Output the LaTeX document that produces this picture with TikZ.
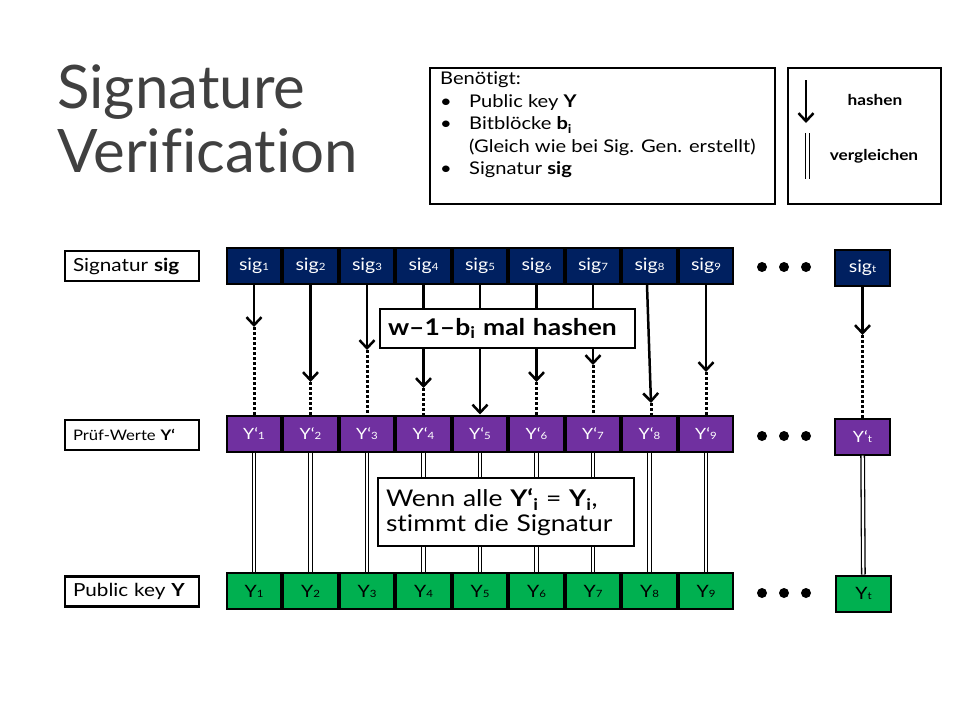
\documentclass[tikz,border=0pt]{standalone}
\usepackage{fontspec}
\setmainfont{Lato}[FakeStretch=1.15, Ligatures=NoCommon]
\newfontfamily\titlefont{Lato}[Ligatures=NoCommon]
\usetikzlibrary{arrows.meta,positioning}
\definecolor{sigblue}{RGB}{0,32,96}
\definecolor{pruefviolet}{RGB}{112,48,160}
\definecolor{keygreen}{RGB}{0,176,80}
\definecolor{titlegray}{RGB}{64,64,64}
\newcommand{\ix}[1]{{\fontsize{10}{10}\selectfont #1}}

\begin{document}
\begin{tikzpicture}[
    x=1pt, y=-1pt,
    cell/.style={rectangle, draw=black, line width=2pt, minimum width=54.5pt, minimum height=36pt, inner sep=0pt, text=white, font=\fontsize{17}{17}\selectfont},
    sigcell/.style={cell, fill=sigblue},
    pcell/.style={cell, fill=pruefviolet, font=\fontsize{15.5}{15.5}\selectfont},
    ycell/.style={cell, fill=keygreen, text=black},
    rowlabel/.style={rectangle, draw, line width=2.5pt, minimum width=134pt, minimum height=30pt, inner sep=0pt, text width=118pt, align=left, font=\fontsize{18}{18}\selectfont},
    frame/.style={rectangle, draw, line width=2.5pt, inner sep=0pt},
    note/.style={rectangle, draw, line width=2.5pt, fill=white, inner sep=7pt, align=left, font=\fontsize{23}{25}\selectfont},
    hash/.style={->, >={Straight Barb[length=8pt,width=15pt]}, line width=2.5pt},
    dotline/.style={line width=3pt, dash pattern=on 2.5pt off 2.5pt},
    cmp/.style={double, line width=1.3pt, double distance=2.2pt}
]
    \useasboundingbox[fill=white] (0,0) rectangle (960,720);

    \node[anchor=base west, inner sep=0pt, text=titlegray, font=\titlefont\fontsize{60}{64}\selectfont] (title1) at (57,108) {Signature};
    \node[anchor=base west, inner sep=0pt, text=titlegray, font=\titlefont\fontsize{60}{64}\selectfont] (title2) at (57,172) {Verification};

    \node[frame, minimum width=345pt, minimum height=136pt] (needbox) at (602.5,136) {};
    \node[anchor=north west, inner sep=0pt, align=left, font=\fontsize{17.5}{22.5}\selectfont] (needtext) at (440,72) {Benötigt:\\
        \makebox[29pt][l]{\textbullet}Public key \textbf{Y}\\
        \makebox[29pt][l]{\textbullet}Bitblöcke \textbf{b\textsubscript{i}}\\
        \makebox[29pt][l]{}(Gleich wie bei Sig. Gen. erstellt)\\
        \makebox[29pt][l]{\textbullet}Signatur \textbf{sig}};

    \node[frame, minimum width=153pt, minimum height=136pt] (legbox) at (864.5,136) {};
    \coordinate (la1) at (806,80);
    \coordinate (la2) at (806,123);
    \coordinate (lc1) at (807.5,133);
    \coordinate (lc2) at (807.5,179);
    \draw[hash] (la1) -- (la2);
    \draw[cmp] (lc1) -- (lc2);
    \node[font=\fontsize{15}{15}\selectfont\bfseries] (hashlbl) at (875,100) {hashen};
    \node[font=\fontsize{15}{15}\selectfont\bfseries] (cmplbl) at (874,156) {vergleichen};

    \node[rowlabel] (lsig) at (132,266) {Signatur \textbf{sig}};
    \node[rowlabel, font=\fontsize{14.5}{14.5}\selectfont] (lpruef) at (132,435) {Prüf-Werte \textbf{Y‘}};
    \node[rowlabel] (lkey) at (132,591.5) {Public key \textbf{Y}};

    \node[sigcell] (sig1) at (254,266) {sig\ix{1}};
    \node[sigcell, right=0pt of sig1] (sig2) {sig\ix{2}};
    \node[sigcell, right=0pt of sig2] (sig3) {sig\ix{3}};
    \node[sigcell, right=0pt of sig3] (sig4) {sig\ix{4}};
    \node[sigcell, right=0pt of sig4] (sig5) {sig\ix{5}};
    \node[sigcell, right=0pt of sig5] (sig6) {sig\ix{6}};
    \node[sigcell, right=0pt of sig6] (sig7) {sig\ix{7}};
    \node[sigcell, right=0pt of sig7] (sig8) {sig\ix{8}};
    \node[sigcell, right=0pt of sig8] (sig9) {sig\ix{9}};
    \node[sigcell] (sigt) at (862.5,268) {sig\ix{t}};

    \node[pcell] (Yp1) at (254,433.5) {Y‘\ix{1}};
    \node[pcell, right=0pt of Yp1] (Yp2) {Y‘\ix{2}};
    \node[pcell, right=0pt of Yp2] (Yp3) {Y‘\ix{3}};
    \node[pcell, right=0pt of Yp3] (Yp4) {Y‘\ix{4}};
    \node[pcell, right=0pt of Yp4] (Yp5) {Y‘\ix{5}};
    \node[pcell, right=0pt of Yp5] (Yp6) {Y‘\ix{6}};
    \node[pcell, right=0pt of Yp6] (Yp7) {Y‘\ix{7}};
    \node[pcell, right=0pt of Yp7] (Yp8) {Y‘\ix{8}};
    \node[pcell, right=0pt of Yp8] (Yp9) {Y‘\ix{9}};
    \node[pcell] (Ypt) at (862.5,436.5) {Y‘\ix{t}};

    \node[ycell] (Y1) at (254,591) {Y\ix{1}};
    \node[ycell, right=0pt of Y1] (Y2) {Y\ix{2}};
    \node[ycell, right=0pt of Y2] (Y3) {Y\ix{3}};
    \node[ycell, right=0pt of Y3] (Y4) {Y\ix{4}};
    \node[ycell, right=0pt of Y4] (Y5) {Y\ix{5}};
    \node[ycell, right=0pt of Y5] (Y6) {Y\ix{6}};
    \node[ycell, right=0pt of Y6] (Y7) {Y\ix{7}};
    \node[ycell, right=0pt of Y7] (Y8) {Y\ix{8}};
    \node[ycell, right=0pt of Y8] (Y9) {Y\ix{9}};
    \node[ycell] (Yt) at (863.5,593.5) {Y\ix{t}};

    \fill (762,267) circle (5) (784,267) circle (5) (806,267) circle (5);
    \fill (762,436) circle (5) (784,436) circle (5) (806,436) circle (5);
    \fill (762,593) circle (5) (784,593) circle (5) (806,593) circle (5);

    \coordinate (h1) at (254,327);
    \coordinate (h2) at (310.5,382);
    \coordinate (h3) at (367,350);
    \coordinate (h4) at (423.5,388);
    \coordinate (h6) at (536.5,382);
    \coordinate (h7) at (593,365);
    \coordinate (h8) at (651,403);
    \coordinate (h9) at (706,372);
    \coordinate (ht) at (862.5,335);

    \draw[hash] (sig1) -- (h1);
    \draw[hash] (sig2) -- (h2);
    \draw[hash] (sig3) -- (h3);
    \draw[hash] (sig4) -- (h4);
    \draw[hash] (sig5) -- (Yp5);
    \draw[hash] (sig6) -- (h6);
    \draw[hash] (sig7) -- (h7);
    \draw[hash] (sig8.south -| 647,0) -- (h8);
    \draw[hash] (sig9) -- (h9);
    \draw[hash] (sigt) -- (ht);

    \draw[dotline] (h1) -- (Yp1);
    \draw[dotline] (h2) -- (Yp2);
    \draw[dotline] (h3) -- (Yp3);
    \draw[dotline] (h4) -- (Yp4);
    \draw[dotline] (h6) -- (Yp6);
    \draw[dotline] (h7) -- (Yp7);
    \draw[dotline] (h8) -- (Yp8.north -| 651,0);
    \draw[dotline] (h9) -- (Yp9);
    \draw[dotline] (ht) -- (Ypt);

    \draw[cmp] (Yp1) -- (Y1);
    \draw[cmp] (Yp2) -- (Y2);
    \draw[cmp] (Yp3) -- (Y3);
    \draw[cmp] (Yp4) -- (Y4);
    \draw[cmp] (Yp5) -- (Y5);
    \draw[cmp] (Yp6) -- (Y6);
    \draw[cmp] (Yp7) -- (Y7);
    \draw[cmp] (Yp8) -- (Y8);
    \draw[cmp] (Yp9) -- (Y9);
    \draw[cmp] (Ypt) -- (Yt);

    \node[note, minimum width=255pt, minimum height=39pt, text width=239pt] (hashnote) at (507.5,328.5) {\textbf{w–1–b\textsubscript{i} mal hashen}};
    \node[note, minimum width=256pt, minimum height=68pt, text width=240pt] (cmpnote) at (506,512) {Wenn alle \textbf{Y‘\textsubscript{i}} = \textbf{Y\textsubscript{i}},\\ stimmt die Signatur};
\end{tikzpicture}
\end{document}
